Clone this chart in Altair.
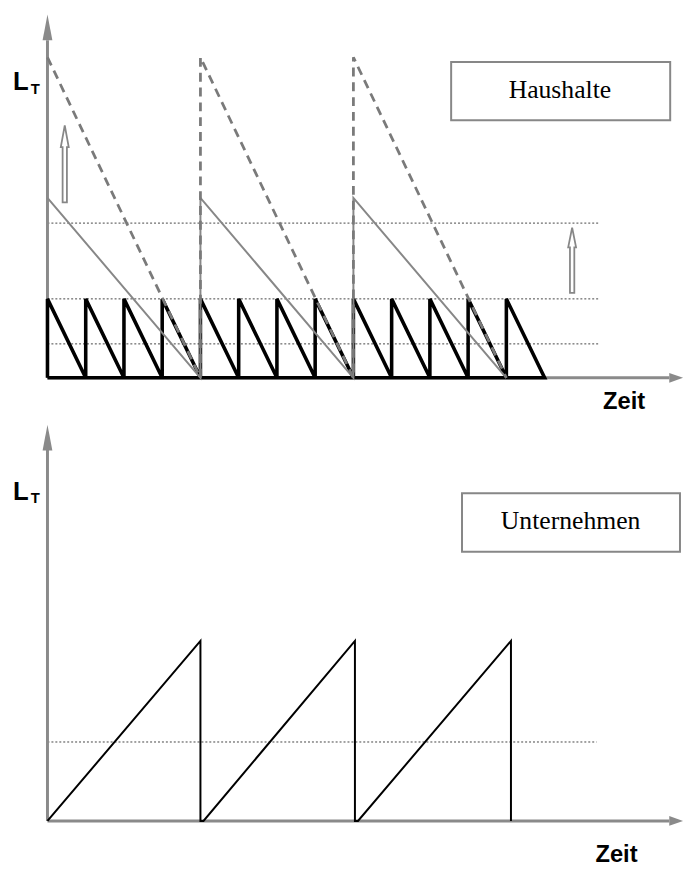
import altair as alt
import pandas as pd

# ---------------- data ----------------
# x: time in periods, y: cash level (unit = peak of the household's thin sawtooth)
# Top panel: Haushalte
black_x = [0, 0, 0.25, 0.25, 0.5, 0.5, 0.75, 0.75, 1.0, 1.0, 1.25, 1.25, 1.5, 1.5,
           1.75, 1.75, 2.0, 2.0, 2.25, 2.25, 2.5, 2.5, 2.75, 2.75, 3.0, 3.0, 3.25, 0]
black_y = [0, 1, 0, 1, 0, 1, 0, 1, 0, 1, 0, 1, 0, 1,
           0, 1, 0, 1, 0, 1, 0, 1, 0, 1, 0, 1, 0, 0]
gray_x = [0, 1, 1, 2, 2, 3]
gray_y = [2.28, 0, 2.28, 0, 2.28, 0]
dash_x = [0, 1, 1, 2, 2, 3]
dash_y = [4.06, 0, 4.06, 0, 4.06, 0]
top_dotted_y = [1.96, 1.0, 0.43]
top_dotted_end = 3.61
top_arrows_x = [0.113, 3.43]
top_arrows_y = [2.71, 1.49]
top_label = "Haushalte"

# Bottom panel: Unternehmen
firm_x = [0, 1.0, 1.0, 1.02, 2.01, 2.01, 2.03, 3.03, 3.03]
firm_y = [0, 2.28, 0, 0, 2.28, 0, 0, 2.28, 0]
bot_dotted_y = [1.0]
bot_dotted_end = 3.59
bot_label = "Unternehmen"

axis_title_x = "Zeit"
axis_title_y = ("L", "T")

# ---------------- layout ----------------
W = 684
H_TOP = 408
H_BOT = 449
PX_X = 155.0      # px per period
PX_Y = 80.0       # px per level unit
ORIGIN_X = 40     # px from panel left edge to y axis

GRAY = "#878787"
AXIS_GRAY = "#8a8a8a"

xdom = [-ORIGIN_X / PX_X, (W - ORIGIN_X) / PX_X]


def line_df(xs_, ys_):
    return pd.DataFrame({"x": xs_, "y": ys_, "i": list(range(len(xs_)))})


def build(h, y0, layers_fn):
    ydom = [-(h - y0) / PX_Y, y0 / PX_Y]
    xs = alt.Scale(domain=xdom, nice=False, zero=False)
    ys = alt.Scale(domain=ydom, nice=False, zero=False)

    def X(f):
        return alt.X(f, type="quantitative", scale=xs, axis=None)

    def Y(f):
        return alt.Y(f, type="quantitative", scale=ys, axis=None)

    layers = layers_fn(X, Y)
    return alt.layer(*layers).properties(width=W, height=h)


VARROW = "M0,-1L0.38,1L-0.38,1Z"
HARROW = "M1,0L-1,0.7L-1,-0.7Z"


def axes_layers(X, Y, yaxis_top, yarrow_c):
    axdf = pd.DataFrame({"x": [0, 0], "y": [0, 0], "x2": [0, 4.065], "y2": [yaxis_top, 0]})
    rules = alt.Chart(axdf).mark_rule(color=AXIS_GRAY, strokeWidth=3).encode(
        x=X("x"), y=Y("y"), x2="x2", y2="y2")
    va = alt.Chart(pd.DataFrame({"x": [0], "y": [yarrow_c]})).mark_point(
        shape=VARROW, filled=True, size=676, color=AXIS_GRAY, opacity=1, strokeWidth=0
    ).encode(x=X("x"), y=Y("y"))
    ha = alt.Chart(pd.DataFrame({"x": [4.11], "y": [0]})).mark_point(
        shape=HARROW, filled=True, size=196, color=AXIS_GRAY, opacity=1, strokeWidth=0
    ).encode(x=X("x"), y=Y("y"))
    return [rules, va, ha]


def text_layers(X, Y, lx, lbase, tx, tbase, zx, zbase):
    L = alt.Chart(pd.DataFrame({"x": [lx], "y": [lbase], "t": [axis_title_y[0]]})).mark_text(
        align="left", baseline="alphabetic", font="Liberation Sans", fontWeight="bold",
        fontSize=26, color="black").encode(x=X("x"), y=Y("y"), text="t:N")
    T = alt.Chart(pd.DataFrame({"x": [tx], "y": [tbase], "t": [axis_title_y[1]]})).mark_text(
        align="left", baseline="alphabetic", font="Liberation Sans", fontWeight="bold",
        fontSize=15, color="black").encode(x=X("x"), y=Y("y"), text="t:N")
    Z = alt.Chart(pd.DataFrame({"x": [zx], "y": [zbase], "t": [axis_title_x]})).mark_text(
        align="center", baseline="alphabetic", font="Liberation Sans", fontWeight="bold",
        fontSize=24, color="black").encode(x=X("x"), y=Y("y"), text="t:N")
    return [L, T, Z]


def box_layers(X, Y, x1, x2, y1, y2, tx, tbase, label):
    box = alt.Chart(pd.DataFrame({"x": [x1], "x2": [x2], "y": [y1], "y2": [y2]})).mark_rect(
        fill="white", stroke=GRAY, strokeWidth=2).encode(x=X("x"), x2="x2", y=Y("y"), y2="y2")
    txt = alt.Chart(pd.DataFrame({"x": [tx], "y": [tbase], "t": [label]})).mark_text(
        align="center", baseline="alphabetic", font="Liberation Serif", fontSize=26,
        color="black").encode(x=X("x"), y=Y("y"), text="t:N")
    return [box, txt]


def dotted_layer(X, Y, ys_, xend):
    df = pd.DataFrame({"y": ys_, "x": [0] * len(ys_), "x2": [xend] * len(ys_)})
    return alt.Chart(df).mark_rule(color="#444444", strokeWidth=1, strokeDash=[2, 2]).encode(
        x=X("x"), x2="x2", y=Y("y"))


def top_layers(X, Y):
    dots = dotted_layer(X, Y, top_dotted_y, top_dotted_end)
    axes = axes_layers(X, Y, 4.275, 4.44)
    black = alt.Chart(line_df(black_x, black_y)).mark_line(
        color="black", strokeWidth=3.6).encode(x=X("x"), y=Y("y"), order="i:Q")
    gray = alt.Chart(line_df(gray_x, gray_y)).mark_line(
        color=GRAY, strokeWidth=2).encode(x=X("x"), y=Y("y"), order="i:Q")
    dash = alt.Chart(line_df(dash_x, dash_y)).mark_line(
        color="#7a7a7a", strokeWidth=2.8, strokeDash=[9, 6]).encode(
        x=X("x"), y=Y("y"), order="i:Q")
    a1 = alt.Chart(pd.DataFrame({"x": [top_arrows_x[0]], "y": [top_arrows_y[0]]})).mark_point(
        shape="M0,-1L0.103,-0.436L0.056,-0.436L0.056,1L-0.056,1L-0.056,-0.436L-0.103,-0.436Z",
        filled=False, size=6084, color=GRAY, strokeWidth=1.8, opacity=1).encode(
        x=X("x"), y=Y("y"))
    a2 = alt.Chart(pd.DataFrame({"x": [top_arrows_x[1]], "y": [top_arrows_y[1]]})).mark_point(
        shape="M0,-1L0.121,-0.394L0.067,-0.394L0.067,1L-0.067,1L-0.067,-0.394L-0.121,-0.394Z",
        filled=False, size=4356, color=GRAY, strokeWidth=1.8, opacity=1).encode(
        x=X("x"), y=Y("y"))
    boxes = box_layers(X, Y, 2.639, 4.071, 4.0, 3.2625, 3.35, 3.54, top_label)
    texts = text_layers(X, Y, -0.226, 3.64, -0.11, 3.59, 3.77, -0.39)
    return [dots] + axes + [black, gray, dash, a1, a2] + boxes + texts


def bot_layers(X, Y):
    dots = dotted_layer(X, Y, bot_dotted_y, bot_dotted_end)
    axes = axes_layers(X, Y, 4.7, 4.856)
    firm = alt.Chart(line_df(firm_x, firm_y)).mark_line(
        color="black", strokeWidth=2).encode(x=X("x"), y=Y("y"), order="i:Q")
    boxes = box_layers(X, Y, 2.71, 4.135, 4.15, 3.41, 3.42, 3.7, bot_label)
    texts = text_layers(X, Y, -0.226, 4.06, -0.11, 4.025, 3.72, -0.525)
    return [dots] + axes + [firm] + boxes + texts


top = build(H_TOP, 369, top_layers)
bottom = build(H_BOT, 410, bot_layers)

chart = alt.vconcat(top, bottom, spacing=0, bounds="flush").resolve_scale(
    x="independent", y="independent").properties(padding=0).configure_view(stroke=None)

chart.save("out.html", embed_options={"renderer": "svg", "actions": False})
